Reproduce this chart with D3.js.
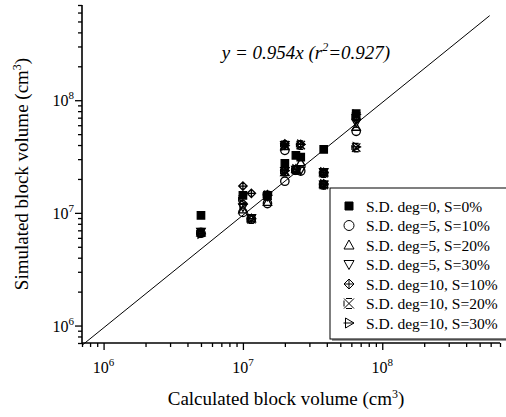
<!DOCTYPE html>
<html><head><meta charset="utf-8">
<script src="https://cdn.jsdelivr.net/npm/d3@7"></script>
<style>body{margin:0;background:#fff}svg{display:block}text{font-family:"Liberation Serif","Times New Roman",serif;fill:#000}</style>
</head><body>
<svg id="c" width="506" height="417"></svg>
<script>
// ---- data ----
const seriesNames = ["S.D. deg=0, S=0%","S.D. deg=5, S=10%","S.D. deg=5, S=20%","S.D. deg=5, S=30%","S.D. deg=10, S=10%","S.D. deg=10, S=20%","S.D. deg=10, S=30%"];
const seriesShapes = ["square","circle","triangle","triangleDown","diamondCross","xStar","triRight"];
const xSq = [5e6,1e7,1.5e7,2e7,2.4e7,2.6e7,3.8e7,6.5e7];
const ySq = [9.5e6,1.43e7,1.43e7,2.75e7,3.24e7,3.13e7,3.66e7,7.6e7];
const xCommon = [5e6,1e7,1.15e7,1.5e7,2e7,2e7,2.4e7,2.6e7,3.8e7,3.8e7,6.5e7];
const yCircle = [6.6e6,1.01e7,8.8e6,1.21e7,3.59e7,1.91e7,2.4e7,2.35e7,2.25e7,1.78e7,5.3e7];
const yTri = [6.7e6,1.07e7,8.9e6,1.25e7,3.9e7,2.3e7,2.45e7,2.81e7,2.28e7,1.8e7,5.8e7];
const yTriDown = [6.8e6,1.12e7,9.0e6,1.4e7,4.0e7,2.35e7,2.42e7,2.38e7,2.3e7,1.79e7,6.3e7];
const yDiamond = [6.6e6,1.73e7,1.49e7,1.45e7,4.1e7,2.38e7,2.43e7,4.06e7,2.27e7,1.8e7,6.8e7];
const xStarX = [5e6,1e7,1.15e7,1.5e7,2e7,2e7,2.4e7,2.6e7,3.8e7,3.8e7,6.5e7,6.5e7];
const yStar = [6.7e6,1.32e7,8.8e6,1.42e7,4.0e7,2.33e7,2.4e7,4.0e7,2.25e7,1.77e7,7.2e7,3.8e7];
const yTriRight = [6.5e6,1.19e7,8.9e6,1.43e7,3.95e7,2.36e7,2.45e7,4.05e7,2.3e7,1.8e7,7.5e7,3.85e7];
const fitSlope = 0.954;
const fitLineX = [7e5, 5.9e8];
const equationText = ["y = 0.954x (r","2","=0.927)"];
const xTitle = "Calculated block volume (cm";
const yTitle = "Simulated block volume (cm";
const majorTicks = [1e6,1e7,1e8];
const domain = [7e5, 7e8];

const seriesData = [
  [xSq, ySq], [xCommon, yCircle], [xCommon, yTri], [xCommon, yTriDown],
  [xCommon, yDiamond], [xStarX, yStar], [xStarX, yTriRight]
];

// ---- layout ----
const FONT = '"Liberation Serif","Times New Roman",serif';
const svg = d3.select("#c");
const L = 82, R = 500, T = 5, B = 343;
const x = d3.scaleLog().domain(domain).range([L, R]);
const y = d3.scaleLog().domain(domain).range([B, T]);

const allTicks = [];
for (let e = 5; e <= 8; e++) for (let m = 1; m <= 9; m++) {
  const v = m * Math.pow(10, e);
  if (v >= domain[0] && v <= domain[1]) allTicks.push(v);
}
const isMajor = v => majorTicks.some(t => Math.abs(t - v) / t < 1e-9);

function shapePath(shape, r) {
  switch (shape) {
    case "square": return `M${-r},${-r}H${r}V${r}H${-r}Z`;
    case "circle": return `M${r},0A${r},${r} 0 1 1 ${-r},0A${r},${r} 0 1 1 ${r},0Z`;
    case "triangle": return `M0,${-r}L${r},${r*0.8}L${-r},${r*0.8}Z`;
    case "triangleDown": return `M0,${r}L${r},${-r*0.8}L${-r},${-r*0.8}Z`;
    case "diamondCross": return `M0,${-r}L${r},0L0,${r}L${-r},0ZM0,${-r}V${r}M${-r},0H${r}`;
    case "xStar": return `M${-r},${-r}L${r},${r}M${r},${-r}L${-r},${r}M${-r*0.6},${-r}H${r*0.6}M${-r*0.6},${r}H${r*0.6}M${-r},${-r*0.6}V${r*0.6}`;
    case "triRight": return `M${r},0L${-r*0.7},${-r}L${-r*0.7},${r}ZM${-r*1.1},0H${r}`;
  }
}

// fit line
svg.append("line")
  .attr("x1", x(fitLineX[0])).attr("y1", y(fitLineX[0]*fitSlope))
  .attr("x2", x(fitLineX[1])).attr("y2", y(fitLineX[1]*fitSlope))
  .attr("stroke", "#000").attr("stroke-width", 1);

// points
seriesData.forEach(([xs, ys], i) => {
  const shape = seriesShapes[i];
  const g = svg.append("g");
  xs.forEach((xv, j) => {
    g.append("path")
      .attr("transform", `translate(${x(xv)},${y(ys[j])})`)
      .attr("d", shapePath(shape, shape === "square" ? 3.7 : 4.2))
      .attr("fill", shape === "square" ? "#000" : "none")
      .attr("stroke", "#000").attr("stroke-width", 1.3);
  });
});

// axes
const xAxis = svg.append("g").attr("transform", `translate(0,${B})`)
  .call(d3.axisBottom(x).tickValues(allTicks).tickFormat("").tickSizeOuter(0));
const yAxis = svg.append("g").attr("transform", `translate(${L},0)`)
  .call(d3.axisLeft(y).tickValues(allTicks).tickFormat("").tickSizeOuter(0));
[xAxis, yAxis].forEach(a => {
  a.select(".domain").attr("stroke", "#000").attr("stroke-width", 1.6);
  a.selectAll(".tick line").attr("stroke", "#000").attr("stroke-width", 1.3);
});
xAxis.selectAll(".tick line").attr("y2", d => isMajor(d) ? 7 : 4);
yAxis.selectAll(".tick line").attr("x2", d => isMajor(d) ? -7 : -4);
xAxis.select(".domain").attr("d", `M${L},0H${R}`);
yAxis.select(".domain").attr("d", `M0,${B}V${T}`);

function powLabel(g, v, px, py, anchor) {
  const t = g.append("text").attr("x", px).attr("y", py).attr("text-anchor", anchor)
    .attr("font-family", FONT).style("font-family", FONT).style("font-size", "16px");
  t.append("tspan").text("10");
  t.append("tspan").attr("dy", -7).style("font-size", "11px").text(String(Math.round(Math.log10(v))));
}
majorTicks.forEach(v => powLabel(svg, v, x(v), 373, "middle"));
majorTicks.forEach(v => powLabel(svg, v, 74, y(v) + 6, "end"));

// titles
const xt = svg.append("text").attr("x", 286).attr("y", 405).attr("text-anchor", "middle").style("font-size", "19px");
xt.append("tspan").text(xTitle);
xt.append("tspan").attr("dy", -7).style("font-size", "12px").text("3");
xt.append("tspan").attr("dy", 7).text(")");

const yt = svg.append("text").attr("transform", `translate(28,${(T+B)/2}) rotate(-90)`).attr("text-anchor", "middle").style("font-size", "19px");
yt.append("tspan").text(yTitle);
yt.append("tspan").attr("dy", -7).style("font-size", "12px").text("3");
yt.append("tspan").attr("dy", 7).text(")");

// equation
const eq = svg.append("text").attr("x", 306).attr("y", 59).attr("text-anchor", "middle")
  .style("font-size", "19px").style("font-style", "italic");
eq.append("tspan").text(equationText[0]);
eq.append("tspan").attr("dy", -8).style("font-size", "12px").text(equationText[1]);
eq.append("tspan").attr("dy", 8).text(equationText[2]);

// legend
const lg = svg.append("g");
lg.append("rect").attr("x", 332).attr("y", 190).attr("width", 180).attr("height", 151).attr("fill", "#999");
lg.append("rect").attr("x", 330).attr("y", 188).attr("width", 180).attr("height", 151)
  .attr("fill", "#fff").attr("stroke", "#000").attr("stroke-width", 1);
seriesNames.forEach((name, i) => {
  const cy = 206 + i * 19.5;
  const shape = seriesShapes[i];
  lg.append("path").attr("transform", `translate(349,${cy})`)
    .attr("d", shapePath(shape, shape === "square" ? 4 : 5))
    .attr("fill", shape === "square" ? "#000" : "none")
    .attr("stroke", "#000").attr("stroke-width", 1);
  lg.append("text").attr("x", 366).attr("y", cy + 5.5).style("font-size", "15.5px").text(name);
});
</script>
</body></html>
